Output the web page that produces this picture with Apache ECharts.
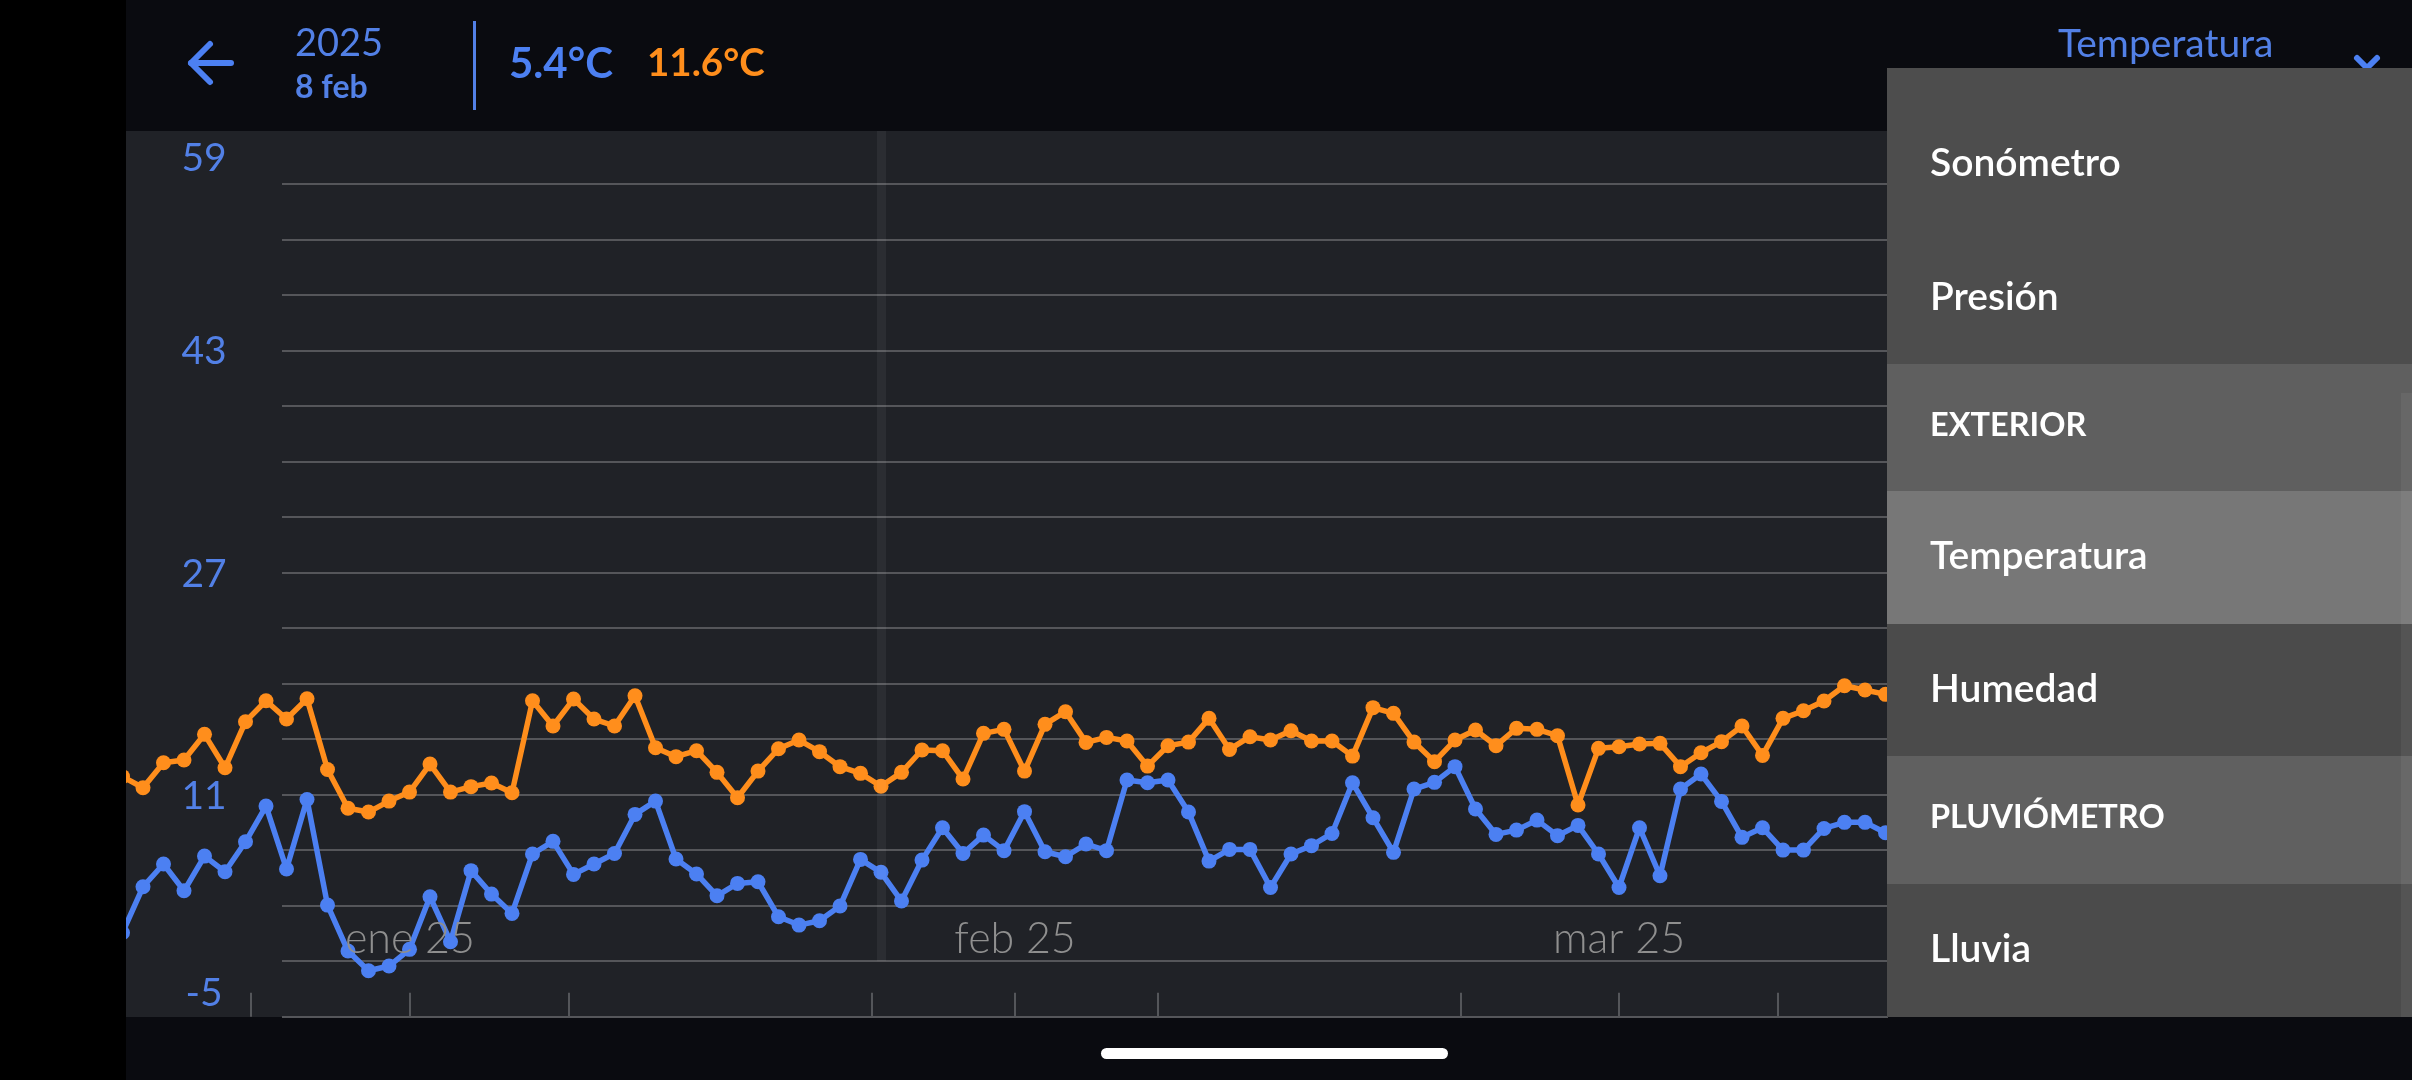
<!DOCTYPE html>
<html>
<head>
<meta charset="utf-8">
<title>Temperatura</title>
<script src="https://cdn.jsdelivr.net/npm/echarts@6/dist/echarts.min.js"></script>
<style>
	html, body { margin: 0; padding: 0; background: #000; }
	#chart { width: 2412px; height: 1080px; }
</style>
</head>
<body>
<div id="chart"></div>
<script>
	// minimas y maximas diarias
	var minTemps = [1.05, 4.36, 6.0, 4.07, 6.57, 5.44, 7.6, 10.17, 5.64, 10.65,
		3.04, -0.27, -1.69, -1.35, -0.15, 3.64, 0.4, 5.52, 3.83, 2.44,
		6.72, 7.63, 5.25, 6.0, 6.76, 9.57, 10.53, 6.36, 5.28, 3.71,
		4.6, 4.72, 2.2, 1.6, 1.91, 2.97, 6.33, 5.4, 3.33, 6.28,
		8.61, 6.76, 8.08, 6.96, 9.77, 6.88, 6.52, 7.44, 6.96, 12.05,
		11.85, 12.05, 9.74, 6.21, 7.05, 7.05, 4.31, 6.72, 7.32, 8.2,
		11.85, 9.33, 6.84, 11.4, 11.88, 13.01, 9.96, 8.13, 8.44, 9.16,
		8.04, 8.78, 6.72, 4.31, 8.61, 5.15, 11.4, 12.48, 10.51, 7.92,
		8.61, 7.0, 7.0, 8.56, 9.0, 9.0, 8.25];
	var maxTemps = [12.29, 11.49, 13.29, 13.49, 15.34, 12.93, 16.25, 17.76, 16.44, 17.9,
		12.81, 10.01, 9.74, 10.53, 11.18, 13.2, 11.18, 11.57, 11.83, 11.13,
		17.76, 15.94, 17.88, 16.44, 15.94, 18.12, 14.37, 13.73, 14.16, 12.6,
		10.77, 12.69, 14.3, 14.93, 14.09, 13.01, 12.53, 11.6, 12.6, 14.21,
		14.16, 12.12, 15.41, 15.7, 12.69, 16.06, 16.97, 14.76, 15.12, 14.86,
		13.05, 14.52, 14.78, 16.49, 14.25, 15.17, 14.93, 15.6, 14.86, 14.86,
		13.77, 17.26, 16.85, 14.78, 13.37, 14.93, 15.65, 14.52, 15.77, 15.7,
		15.24, 10.25, 14.33, 14.45, 14.64, 14.69, 13.01, 14.01, 14.81, 15.94,
		13.82, 16.49, 17.04, 17.74, 18.84, 18.53, 18.22];
	var selectedDay = 37;

	var yTicks = [-5, -1, 3, 7, 11, 15, 19, 23, 27, 31, 35, 39, 43, 47, 51, 55, 59];
	var yLabels = [-5, 11, 27, 43, 59];
	var xTicks = [6.27, 14.02, 21.78, 36.54, 43.54, 50.51, 65.3, 73.0, 80.76];
	var xLabelDays = [14.02, 43.54, 73.0];
	var xLabels = ['ene 25', 'feb 25', 'mar 25'];
	var menuItems = ['Sonómetro', 'Presión', 'EXTERIOR', 'Temperatura', 'Humedad', 'PLUVIÓMETRO', 'Lluvia'];

	var blue = '#4c80f2';
	var orange = '#ff8e1c';
	var textBlue = '#5280e6';
	var font = 'Lato, "Open Sans", sans-serif';

	function pairs(values) {
		return values.map(function (v, i) {
			return [i, v];
		});
	}

	function rect(x, y, w, h, fill, z, r) {
		return {
			type: 'rect',
			silent: true,
			z: z,
			shape: { x: x, y: y, width: w, height: h, r: r || 0 },
			style: { fill: fill }
		};
	}

	function text(x, y, str, weight, size, fill) {
		return {
			type: 'text',
			silent: true,
			z: 110,
			x: x,
			y: y,
			style: {
				text: str,
				fill: fill,
				font: weight + ' ' + size + 'px ' + font,
				textAlign: 'left',
				textVerticalAlign: 'middle'
			}
		};
	}

	function stroke(points, width, z) {
		return {
			type: 'polyline',
			silent: true,
			z: z,
			shape: { points: points },
			style: { stroke: blue, lineWidth: width, fill: 'none', lineCap: 'round', lineJoin: 'round' }
		};
	}

	var elements = [
		rect(126, 130, 1762, 887, '#202227', -1),
		rect(0, 0, 126, 1080, '#000000', 100),
		rect(126, 0, 1761, 131, '#0a0b10', 95),
		rect(1101, 1048, 347, 11, '#ffffff', 110, 5.5),

		// cabecera
		stroke([[210, 44], [191, 63], [210, 82]], 6, 110),
		stroke([[191, 63], [231, 63]], 6, 110),
		text(295, 44, '2025', 400, 38, textBlue),
		text(295, 88, '8 feb', 700, 32, textBlue),
		rect(473, 21, 3, 89, textBlue, 110),
		text(509, 64, '5.4°C', 700, 42, blue),
		text(647, 64, '11.6°C', 700, 38.5, orange),
		text(2058, 44, 'Temperatura', 400, 39, textBlue),
		stroke([[2357, 58], [2367, 68], [2377, 58]], 6, 96),

		// menu desplegable
		rect(1887, 68, 525, 296, '#4d4d4d', 100),
		rect(1887, 364, 525, 127, '#5f5f5f', 100),
		rect(1887, 491, 525, 133, '#777777', 100),
		rect(1887, 624, 525, 132, '#4b4b4b', 100),
		rect(1887, 756, 525, 128, '#606060', 100),
		rect(1887, 884, 525, 133, '#4b4b4b', 100),
		rect(2401, 393, 11, 624, 'rgba(255,255,255,0.05)', 105),
		text(1930, 163, menuItems[0], 600, 39, '#ffffff'),
		text(1930, 297, menuItems[1], 600, 39, '#ffffff'),
		text(1930, 426, menuItems[2], 700, 32.5, '#ffffff'),
		text(1930, 556, menuItems[3], 600, 39, '#ffffff'),
		text(1930, 689, menuItems[4], 600, 39, '#ffffff'),
		text(1930, 818, menuItems[5], 700, 32.5, '#ffffff'),
		text(1930, 949, menuItems[6], 600, 39, '#ffffff')
	];

	var labelStyle = { color: textBlue, fontFamily: font, fontWeight: 400, fontSize: 39 };

	var chart = echarts.init(document.getElementById('chart'));
	var option = {
		animation: false,
		backgroundColor: '#0a0b10',
		textStyle: { fontFamily: font },
		graphic: { elements: elements },
		grid: [
			{ left: 282, top: 128.2, width: 1606, height: 888.5 },
			{ left: 0, top: 128.2, width: 2412, height: 888.5 }
		],
		xAxis: [{
			gridIndex: 0,
			type: 'value',
			show: false,
			min: 0,
			max: 1
		}, {
			// marcas cortas abajo y etiquetas de mes dentro del grafico
			gridIndex: 1,
			type: 'value',
			position: 'bottom',
			min: -5.976,
			max: 111.683,
			z: 5,
			splitLine: { show: false },
			axisLine: { show: false, onZero: false },
			axisTick: {
				inside: true,
				length: 24,
				customValues: xTicks,
				lineStyle: { color: '#54565a', width: 2 }
			},
			axisLabel: {
				inside: true,
				margin: 56,
				customValues: xLabelDays,
				color: '#8f8f8f',
				fontFamily: font,
				fontWeight: 300,
				fontSize: 43,
				formatter: function (v) {
					return xLabels[xLabelDays.indexOf(v)];
				}
			}
		}],
		yAxis: [{
			gridIndex: 0,
			type: 'value',
			min: -5,
			max: 59,
			axisLine: { show: false },
			axisTick: { show: false, customValues: yTicks },
			splitLine: { show: true, lineStyle: { color: '#55565a', width: 2 } },
			axisLabel: {
				margin: 78,
				align: 'center',
				customValues: yLabels,
				color: textBlue,
				fontFamily: font,
				fontWeight: 400,
				fontSize: 39,
				formatter: function (v) {
					if (v === 59) return '{top|59}';
					if (v === -5) return '{bot|-5}';
					return '{mid|' + v + '}';
				},
				rich: {
					top: Object.assign({ padding: [60, 0, 0, 0] }, labelStyle),
					mid: Object.assign({ padding: [3, 0, 0, 0] }, labelStyle),
					bot: Object.assign({ padding: [0, 0, 47, 0] }, labelStyle)
				}
			}
		}, {
			gridIndex: 1,
			type: 'value',
			min: -5,
			max: 59,
			show: false
		}],
		series: [{
			name: 'Mínima',
			type: 'line',
			xAxisIndex: 1,
			yAxisIndex: 1,
			data: pairs(minTemps),
			showAllSymbol: true,
			symbol: 'circle',
			symbolSize: 15,
			itemStyle: { color: blue },
			lineStyle: { color: blue, width: 5.5 },
			markLine: {
				silent: true,
				symbol: 'none',
				label: { show: false },
				lineStyle: { color: 'rgba(255,255,255,0.05)', width: 9, type: 'solid' },
				data: [[{ coord: [selectedDay, -1] }, { coord: [selectedDay, 59] }]]
			}
		}, {
			name: 'Máxima',
			type: 'line',
			xAxisIndex: 1,
			yAxisIndex: 1,
			data: pairs(maxTemps),
			showAllSymbol: true,
			symbol: 'circle',
			symbolSize: 15,
			itemStyle: { color: orange },
			lineStyle: { color: orange, width: 5.5 }
		}]
	};
	chart.setOption(option);
</script>
</body>
</html>
